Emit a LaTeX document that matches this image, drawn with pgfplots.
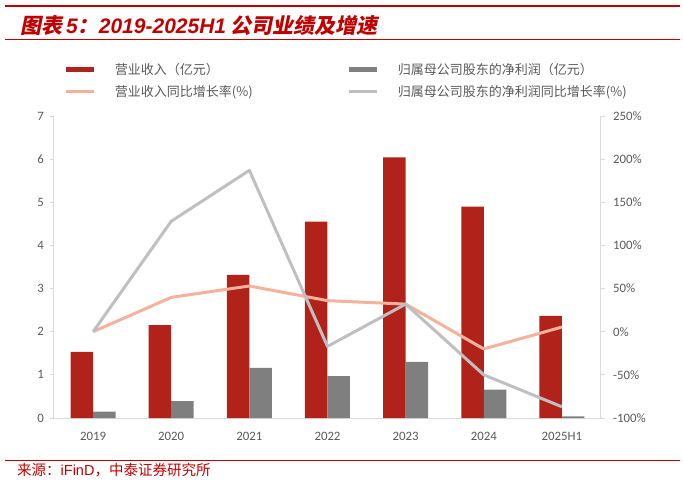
\documentclass[border=0pt]{standalone}
\usepackage{fontspec}
\usepackage{pgfplots}
\pgfplotsset{compat=1.18}
\setmainfont{Carlito}
\newfontfamily\cjk{Noto Sans CJK SC}
\newfontfamily\titlecjk{Noto Sans CJK SC}[FakeSlant=0.2]
\newfontfamily\latsans{Liberation Sans}

\definecolor{barred}{RGB}{176,34,26}
\definecolor{bargray}{RGB}{127,127,127}
\definecolor{salmon}{RGB}{244,177,155}
\definecolor{linegray}{RGB}{191,191,191}
\definecolor{axisgray}{RGB}{217,217,217}
\definecolor{labelgray}{RGB}{89,89,89}
\definecolor{titlered}{RGB}{192,0,0}

\pgfplotsset{
  barleg/.style={legend image code/.code={\fill[##1] (0pt,-2.5pt) rectangle (28pt,2.5pt); \path (47pt,0pt);}},
  lineleg/.style={legend image code/.code={\draw[##1] (0pt,0pt) -- (28pt,0pt); \path (47pt,0pt);}},
  base/.style={
    scale only axis, width=547pt, height=302pt,
    at={(54pt,67pt)}, anchor=south west,
    xmin=-0.5, xmax=6.5,
    axis line style={draw=axisgray, line width=1pt, -},
    tick label style={font=\fontsize{12.8}{14}\selectfont, text=labelgray},
    /pgf/number format/assume math mode=true,
    major tick length=4pt, tick align=outside,
    ytick style={draw=axisgray, line width=0.8pt},
  },
}

\begin{document}
\begin{tikzpicture}
\useasboundingbox (0,0) rectangle (683pt,485pt);

% bars: revenue and net profit (100 million yuan)
\begin{axis}[base,
  axis x line*=bottom, axis y line*=left,
  ymin=0, ymax=7, ytick={0,1,...,7},
  xtick={0,...,6},
  xticklabels={2019,2020,2021,2022,2023,2024,2025H1},
  xtick style={draw=none},
  xticklabel style={inner sep=0pt, yshift=-10pt},
  yticklabel style={inner sep=0pt, xshift=-6pt},
  ybar, bar width=22.5pt,
]
\addplot[fill=barred, draw=none, bar shift=-11.25pt] coordinates {
  (0,1.53) (1,2.15) (2,3.32) (3,4.55) (4,6.04) (5,4.90) (6,2.37)};
\addplot[fill=bargray, draw=none, bar shift=11.25pt] coordinates {
  (0,0.15) (1,0.39) (2,1.16) (3,0.97) (4,1.30) (5,0.66) (6,0.04)};
\end{axis}

% growth rates (%)
\begin{axis}[base,
  axis y line*=right, axis x line=none,
  ymin=-100, ymax=250, ytick={-100,-50,...,250},
  yticklabel={\pgfmathprintnumber{\tick}\%},
  yticklabel style={inner sep=0pt, xshift=8pt},
  legend columns=2,
  legend cell align=left,
  legend style={at={(0.0201,1.1722)}, anchor=north west,
    draw=none, fill=none, inner sep=0pt, outer sep=0pt,
    column sep=0pt, row sep=10pt,
    nodes={inner sep=0pt, text height=10.5pt, text depth=1.5pt},
    font=\cjk\fontsize{13}{15}\selectfont, text=labelgray},
]
\addlegendimage{barleg, fill=barred, draw=none}
\addlegendentry{\makebox[233pt][l]{营业收入（亿元）}}
\addlegendimage{barleg, fill=bargray, draw=none}
\addlegendentry{归属母公司股东的净利润（亿元）}
\addplot[salmon, line width=3pt, line join=round, lineleg] coordinates {
  (0,0) (1,39.8) (2,53) (3,36) (4,32) (5,-20) (6,5.4)};
\addlegendentry{\makebox[233pt][l]{营业收入同比增长率(\%)}}
\addplot[linegray, line width=3pt, line join=round, lineleg] coordinates {
  (0,0) (1,128) (2,187) (3,-17) (4,32) (5,-50) (6,-87)};
\addlegendentry{归属母公司股东的净利润同比增长率(\%)}
\end{axis}

% title block and source
\fill[titlered] (5pt,477.5pt) rectangle (680pt,480pt);
\draw[titlered, line width=1pt] (5pt,445pt) -- (680pt,445pt);
\node[anchor=west, text=titlered, inner sep=0pt] at (20pt,459pt) {\fontsize{21}{25}\selectfont
  {\titlecjk\bfseries 图表}\kern4pt{\latsans\bfseries\itshape 5}{\titlecjk\bfseries ：}{\latsans\bfseries\itshape 2019-2025H1}\ {\titlecjk\bfseries 公司业绩及增速}};
\draw[titlered, line width=1pt] (5pt,24.3pt) -- (680pt,24.3pt);
\node[anchor=west, text=titlered, inner sep=0pt] at (17pt,15pt) {\fontsize{14.5}{17}\selectfont
  {\cjk 来源：}{\latsans iFinD}{\cjk ，中泰证券研究所}};
\end{tikzpicture}
\end{document}
